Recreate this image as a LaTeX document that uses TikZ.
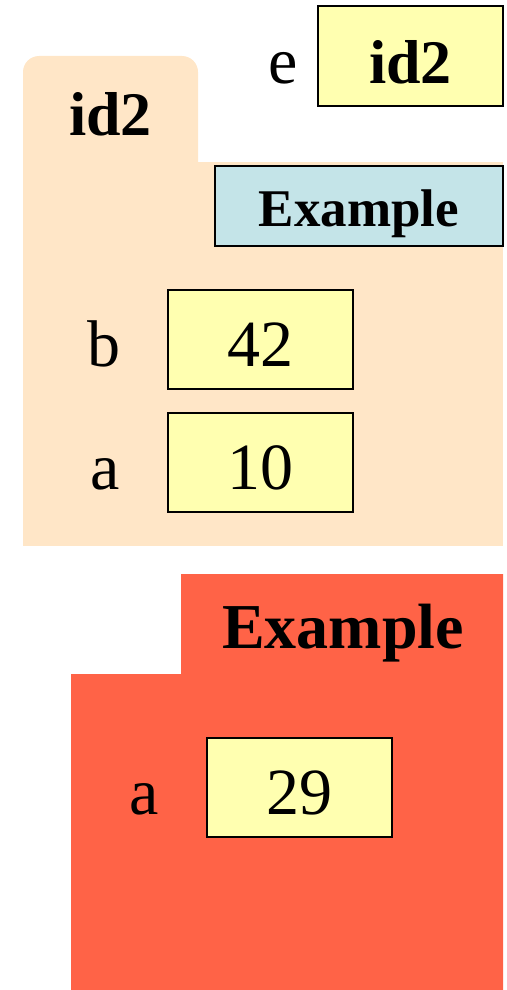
\documentclass[tikz,border=0pt]{standalone}
\usepackage{fontspec}
\setmainfont{Liberation Serif}
\usetikzlibrary{positioning}
\definecolor{folder}{HTML}{FFE6C7}
\definecolor{classbg}{HTML}{C4E4E8}
\definecolor{cell}{HTML}{FFFFB0}
\definecolor{tomato}{HTML}{FF6347}
\tikzset{sc/.style={x=1pt,y=-1pt,line width=2pt},
  var/.style={draw,fill=cell,minimum width=185pt,minimum height=99pt,inner sep=0pt,
    text height=54pt,text depth=0pt,font=\fontsize{66}{70}\selectfont},
  lbl/.style={inner sep=0pt,font=\fontsize{66}{70}\selectfont},
  big/.style={inner sep=0pt,font=\fontsize{62}{66}\selectfont\bfseries}}

\begin{document}
\begin{tikzpicture}[sc]
  \useasboundingbox (0,0) rectangle (506,990);
  % folder id2
  \fill[folder,rounded corners=16pt] (23,56) rectangle (198,200);
  \fill[folder] (23,162) rectangle (503,546);
  \node[big] (tab) at (110.5,114) {id2};
  \node[draw,fill=classbg,minimum width=288pt,minimum height=80pt,inner sep=0pt,
    text height=40pt,text depth=0pt,font=\fontsize{53}{58}\selectfont\bfseries] (cls) at (359,206) {Example};
  \node[var] (vb) at (260.5,339.5) {42};
  \node[lbl,left=46pt of vb.base west,anchor=base east] (lb) {b};
  \node[var] (va) at (260.5,462.5) {10};
  \node[lbl,left=46pt of va.base west,anchor=base east] (la) {a};
  % global e
  \node[var,font=\fontsize{62}{66}\selectfont\bfseries] (ve) at (410.5,56) {id2};
  \node[lbl,left=18pt of ve.base west,anchor=base east] (le) {e};
  % class folder
  \fill[tomato] (71,990)--(71,674)--(181,674)--(181,574)--(503,574)--(503,990)--cycle;
  \node[inner sep=0pt,font=\fontsize{64}{68}\selectfont\bfseries,anchor=base] (ctab) at (343,648) {Example};
  \node[var] (vc) at (299.5,787.5) {29};
  \node[lbl,left=46pt of vc.base west,anchor=base east] (lc) {a};
\end{tikzpicture}
\end{document}
